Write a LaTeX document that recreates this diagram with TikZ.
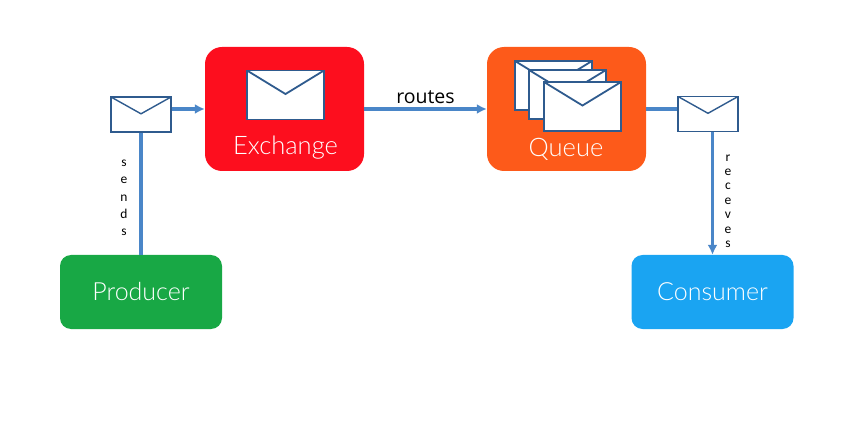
\documentclass[tikz,border=0pt]{standalone}
\usepackage{fontspec}
\setmainfont{Lato Light}
\newfontfamily\smallfont{Carlito}
\newfontfamily\routefont{Open Sans}
\usepackage{xcolor}
\usetikzlibrary{calc,arrows.meta,positioning}
\definecolor{exred}{HTML}{FD0E1E}
\definecolor{quorange}{HTML}{FD5A1A}
\definecolor{prgreen}{HTML}{18A845}
\definecolor{coblue}{HTML}{1AA4F2}
\definecolor{envline}{HTML}{2F5B8E}
\definecolor{flowline}{HTML}{4A86C8}
\tikzset{
  bigbox/.style={rounded corners=17pt, minimum width=159pt, minimum height=124pt, inner sep=0pt},
  lowbox/.style={rounded corners=11pt, minimum width=162pt, minimum height=74pt, inner sep=0pt,
                 text=white, font=\fontsize{25}{25}\selectfont},
  boxlabel/.style={text=white, inner sep=0pt, font=\fontsize{25.5}{25.5}\selectfont},
  flow/.style={draw=flowline, line width=3.2pt},
  tip/.style={-{Latex[length=10pt,width=10pt]}},
  spelled/.style={align=center, inner sep=0pt, font=\smallfont\fontsize{13.5}{#1}\selectfont},
  envelope/.style={draw=envline, fill=white, line width=#1, inner sep=0pt,
    path picture={\draw[envline, line width=#1]
      (path picture bounding box.north west)
      -- ($(path picture bounding box.north)!.48!(path picture bounding box.south)$)
      -- (path picture bounding box.north east);}},
  bigenv/.style={envelope=1.8pt, minimum width=77pt, minimum height=49pt},
  smallenv/.style={envelope=1.4pt, minimum width=60pt, minimum height=35pt},
}
\begin{document}
\begin{tikzpicture}[x=1pt, y=-1pt]
\useasboundingbox (0,0) rectangle (865,422);
%
\node[bigbox, fill=exred] (exchange) at (284.5,109) {};
\node[bigbox, fill=quorange] (queue) at (566.5,109) {};
\node[lowbox, fill=prgreen] (producer) at (141,292) {Producer};
\node[lowbox, fill=coblue] (consumer) at (712.5,292) {Consumer};
%
\node[boxlabel] (exchangetext) at (285.5,148) {Exchange};
\node[boxlabel] (queuetext) at (566,149) {Queue};
%
\node[bigenv] (exmail) at (285.5,95) {};
\node[bigenv] (qmail1) at (553.5,85.5) {};
\node[bigenv] (qmail2) at (567.5,94.5) {};
\node[bigenv] (qmail3) at (582.5,106.5) {};
\node[smallenv] (sendmail) at (141,114.5) {};
\node[smallenv] (getmail) at (708,114) {};
%
\draw[flow] (producer.north) -- (sendmail.south);
\draw[flow,tip] (sendmail.east |- exchange.west) -- (exchange.west);
\draw[flow,tip] (exchange.east) -- node[above=0.5pt, text=black, font=\routefont\fontsize{19.5}{19.5}\selectfont] (routes) {routes} (queue.west);
\draw[flow] (queue.east) -- (getmail.west |- queue.east);
\draw[flow,tip] (getmail.south -| consumer.north) -- (consumer.north);
%
\node[spelled=17.3pt] (sends) at (124,198) {s\\e\\n\\d\\s};
\node[spelled=14.4pt] (receves) at (728,201) {r\\e\\c\\e\\v\\e\\s};
%
\end{tikzpicture}
\end{document}
